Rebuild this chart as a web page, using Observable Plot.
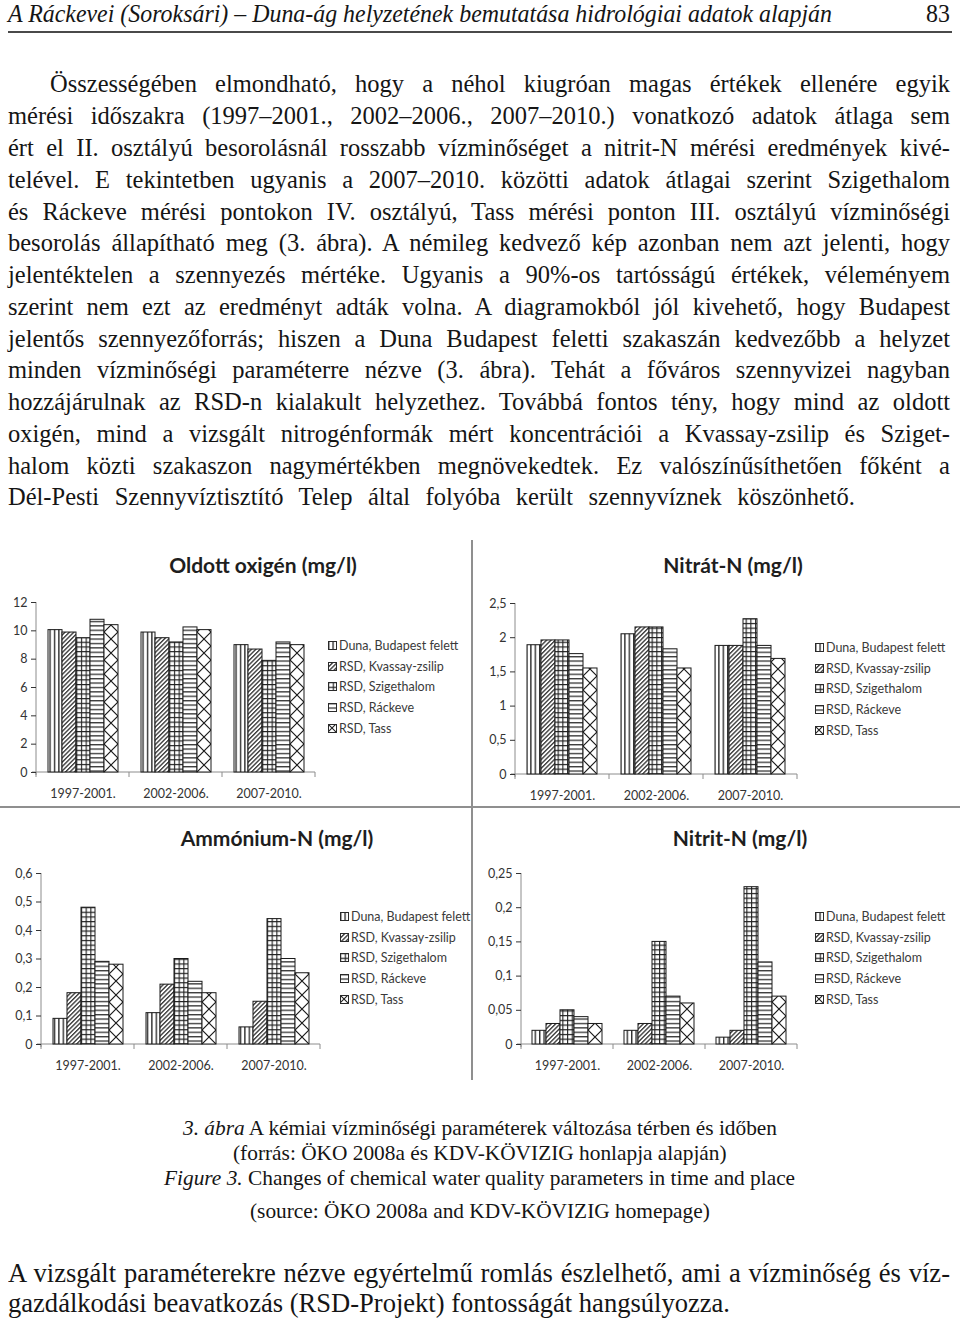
<!DOCTYPE html>
<html lang="hu"><head><meta charset="utf-8">
<script src="https://cdn.jsdelivr.net/npm/d3@7"></script>
<script src="https://cdn.jsdelivr.net/npm/@observablehq/plot@0.6"></script>
<style>
html,body{margin:0;padding:0;background:#fff;}
#page{position:relative;width:960px;height:1323px;overflow:hidden;font-family:"Liberation Serif","Times New Roman",serif;color:#151515;}
.fit{display:inline-block;white-space:nowrap;transform-origin:0 50%;}
.row{position:absolute;white-space:nowrap;font-family:"Liberation Serif","Times New Roman",serif;}
.chart{position:absolute;width:472px;height:268px;}
.chart-title{position:absolute;width:400px;text-align:center;font:700 21px Lato,sans-serif;color:#1e1e1e;line-height:30px;white-space:nowrap;}
.plotwrap{position:absolute;left:0;top:50px;}
.legend{position:absolute;font:12.5px Lato,sans-serif;color:#3a3a3a;}
.legend div{height:20.8px;white-space:nowrap;display:flex;align-items:center;}
.legend svg{margin-right:2px;flex:none;}
.sep{position:absolute;background:#8f8f8f;}
</style></head>
<body>
<svg width="0" height="0" style="position:absolute">
 <defs>
  <pattern id="pat-duna" patternUnits="userSpaceOnUse" width="4.4" height="4.4">
   <rect width="4.4" height="4.4" fill="#fff"/><line x1="0.7" y1="0" x2="0.7" y2="4.4" stroke="#1f1f1f" stroke-width="1.3"/>
  </pattern>
  <pattern id="pat-kvassay" patternUnits="userSpaceOnUse" width="3.1" height="10" patternTransform="rotate(45)">
   <rect width="3.1" height="10" fill="#fff"/><line x1="0.7" y1="0" x2="0.7" y2="10" stroke="#1f1f1f" stroke-width="1.2"/>
  </pattern>
  <pattern id="pat-szig" patternUnits="userSpaceOnUse" width="4.7" height="4.7">
   <rect width="4.7" height="4.7" fill="#fff"/><path d="M0.6,0V4.7M0,0.6H4.7" stroke="#1f1f1f" stroke-width="1.1"/>
  </pattern>
  <pattern id="pat-rackeve" patternUnits="userSpaceOnUse" width="4.4" height="4.4">
   <rect width="4.4" height="4.4" fill="#fff"/><line x1="0" y1="0.7" x2="4.4" y2="0.7" stroke="#1f1f1f" stroke-width="1.2"/>
  </pattern>
  <pattern id="pat-tass" patternUnits="userSpaceOnUse" width="8" height="8">
   <rect width="8" height="8" fill="#fff"/><path d="M0,0L8,8M8,0L0,8" stroke="#1f1f1f" stroke-width="1.1"/>
  </pattern>
 </defs>
</svg>
<div id="page"></div>
<script>
// ---------------- data ----------------
const periods = ["1997-2001.", "2002-2006.", "2007-2010."];
const stations = ["Duna, Budapest felett", "RSD, Kvassay-zsilip", "RSD, Szigethalom", "RSD, Ráckeve", "RSD, Tass"];
// one row per period, values in station order
const oxygenValues   = [[10.05, 9.88, 9.48, 10.78, 10.4], [9.88, 9.48, 9.18, 10.24, 10.05], [8.99, 8.68, 7.88, 9.18, 8.99]];
const nitrateValues  = [[1.89, 1.96, 1.96, 1.76, 1.55], [2.05, 2.15, 2.15, 1.83, 1.55], [1.88, 1.88, 2.27, 1.88, 1.69]];
const ammoniumValues = [[0.09, 0.18, 0.48, 0.29, 0.28], [0.11, 0.21, 0.30, 0.22, 0.18], [0.06, 0.15, 0.44, 0.30, 0.25]];
const nitriteValues  = [[0.02, 0.03, 0.05, 0.04, 0.03], [0.02, 0.03, 0.15, 0.07, 0.06], [0.01, 0.02, 0.23, 0.12, 0.07]];
const oxygenTicks   = [0, 2, 4, 6, 8, 10, 12];
const nitrateTicks  = [0, 0.5, 1, 1.5, 2, 2.5];
const ammoniumTicks = [0, 0.1, 0.2, 0.3, 0.4, 0.5, 0.6];
const nitriteTicks  = [0, 0.05, 0.1, 0.15, 0.2, 0.25];
const chartTitles = ["Oldott oxigén (mg/l)", "Nitrát-N (mg/l)", "Ammónium-N (mg/l)", "Nitrit-N (mg/l)"];

// ---------------- text ----------------
const headerText = "A Ráckevei (Soroksári) – Duna-ág helyzetének bemutatása hidrológiai adatok alapján";
const pageNumber = "83";
const bodyLines = [
 "Összességében elmondható, hogy a néhol kiugróan magas értékek ellenére egyik",
 "mérési időszakra (1997–2001., 2002–2006., 2007–2010.) vonatkozó adatok átlaga sem",
 "ért el II. osztályú besorolásnál rosszabb vízminőséget a nitrit-N mérési eredmények kivé-",
 "telével. E tekintetben ugyanis a 2007–2010. közötti adatok átlagai szerint Szigethalom",
 "és Ráckeve mérési pontokon IV. osztályú, Tass mérési ponton III. osztályú vízminőségi",
 "besorolás állapítható meg (3. ábra). A némileg kedvező kép azonban nem azt jelenti, hogy",
 "jelentéktelen a szennyezés mértéke. Ugyanis a 90%-os tartósságú értékek, véleményem",
 "szerint nem ezt az eredményt adták volna. A diagramokból jól kivehető, hogy Budapest",
 "jelentős szennyezőforrás; hiszen a Duna Budapest feletti szakaszán kedvezőbb a helyzet",
 "minden vízminőségi paraméterre nézve (3. ábra). Tehát a főváros szennyvizei nagyban",
 "hozzájárulnak az RSD-n kialakult helyzethez. Továbbá fontos tény, hogy mind az oldott",
 "oxigén, mind a vizsgált nitrogénformák mért koncentrációi a Kvassay-zsilip és Sziget-",
 "halom közti szakaszon nagymértékben megnövekedtek. Ez valószínűsíthetően főként a",
 "Dél-Pesti Szennyvíztisztító Telep által folyóba került szennyvíznek köszönhető."
];
const captionLines = [
 "<i>3. ábra</i> A kémiai vízminőségi paraméterek változása térben és időben",
 "(forrás: ÖKO 2008a és KDV-KÖVIZIG honlapja alapján)",
 "<i>Figure 3.</i> Changes of chemical water quality parameters in time and place",
 "(source: ÖKO 2008a and KDV-KÖVIZIG homepage)"
];
const finalLines = [
 "A vizsgált paraméterekre nézve egyértelmű romlás észlelhető, ami a vízminőség és víz-",
 "gazdálkodási beavatkozás (RSD-Projekt) fontosságát hangsúlyozza."
];

const page = document.getElementById("page");

function makeRow(html, left, cy, fs, lh, extra) {
  const row = document.createElement("div");
  row.className = "row";
  row.style.left = left + "px";
  row.style.fontSize = fs + "px";
  row.style.lineHeight = lh + "px";
  row.style.height = lh + "px";
  const base = (lh - 1.107 * fs) / 2 + 0.891 * fs; // baseline offset
  row.style.top = Math.max(0, cy - (base - 0.23 * fs)) + "px";
  if (extra) row.style.cssText += extra;
  row.innerHTML = '<span class="fit">' + html + '</span>';
  page.appendChild(row);
  return row.firstChild;
}
function spaces(el) { return (el.textContent.match(/ /g) || []).length; }
function justify(el, target, scale) {
  const w = el.getBoundingClientRect().width;
  const n = spaces(el);
  if (n) el.style.wordSpacing = ((target / scale - w) / n) + "px";
  if (scale !== 1) el.style.transform = "scaleX(" + scale + ")";
}

// header
const hdr = makeRow(headerText, 8, 17, 26, 28, "font-style:italic;");
const hdrScale = 824 / hdr.getBoundingClientRect().width;
hdr.style.transform = "scaleX(" + hdrScale + ")";
const pn = makeRow(pageNumber, 0, 17, 26, 28);
pn.style.transform = "scaleX(" + hdrScale + ")";
pn.parentNode.style.left = (950 - pn.getBoundingClientRect().width) + "px";
const rule = document.createElement("div");
rule.className = "sep";
rule.style.cssText += "left:8px;top:31px;width:944px;height:1.6px;background:#4a4a4a;";
page.appendChild(rule);

// body
bodyLines.forEach((t, k) => {
  const left = k === 0 ? 50 : 8;
  const target = k === bodyLines.length - 1 ? 847 : 950 - left;
  const span = makeRow(t, left, 87 + k * 31.77, 24.5, 31.77);
  justify(span, target, 1);
});

// caption
const capCenters = [1131, 1156, 1181, 1214];
let capScale = null;
captionLines.forEach((t, k) => {
  const span = makeRow(t, 0, capCenters[k], 21.5, 25);
  const w = span.getBoundingClientRect().width;
  if (capScale === null) capScale = 594 / w;
  span.style.transform = "scaleX(" + capScale + ")";
  span.parentNode.style.left = (480 - w * capScale / 2) + "px";
});

// final paragraph
const f2 = makeRow(finalLines[1], 8, 1306, 27, 30);
const finScale = 722 / f2.getBoundingClientRect().width;
f2.style.transform = "scaleX(" + finScale + ")";
const f1 = makeRow(finalLines[0], 8, 1276, 27, 30);
justify(f1, 942, finScale);

// separators of chart areas
const vsep = document.createElement("div");
vsep.className = "sep"; vsep.style.cssText += "left:471px;top:540px;width:1.5px;height:540px;";
page.appendChild(vsep);
const hsep = document.createElement("div");
hsep.className = "sep"; hsep.style.cssText += "left:0;top:806px;width:960px;height:1.5px;";
page.appendChild(hsep);

// ---------------- charts ----------------
const layouts = [
  {left: 0,   top: 540, titleX: 263, titleY: 25, ml: 35, width: 330, mt: 12, height: 218, legendX: 328, legendY: 95},
  {left: 472, top: 540, titleX: 261, titleY: 25, ml: 42, width: 341, mt: 13, height: 220, legendX: 343, legendY: 97},
  {left: 0,   top: 810, titleX: 277, titleY: 28, ml: 40, width: 335, mt: 13, height: 220, legendX: 340, legendY: 96},
  {left: 472, top: 810, titleX: 268, titleY: 28, ml: 48, width: 341, mt: 13, height: 220, legendX: 343, legendY: 96}
];
const legendPatterns = ["pat-duna", "pat-kvassay", "pat-szig", "pat-rackeve", "pat-tass"];
function tickFmt(d) { return String(+d.toFixed(4)).replace(".", ","); }

function drawChart(i, values, ticks) {
  const L = layouts[i];
  const box = document.createElement("div");
  box.className = "chart";
  box.style.left = L.left + "px"; box.style.top = L.top + "px";
  page.appendChild(box);

  const title = document.createElement("div");
  title.className = "chart-title";
  title.style.left = (L.titleX - 200) + "px";
  title.style.top = (L.titleY - 15) + "px";
  title.textContent = chartTitles[i];
  box.appendChild(title);

  const data = values.flatMap((row, pi) => row.map((v, si) => ({period: periods[pi], station: stations[si], value: v})));
  const tassId = "pat-tass-" + i;
  const fills = ["url(#pat-duna)", "url(#pat-kvassay)", "url(#pat-szig)", "url(#pat-rackeve)", "url(#" + tassId + ")"];
  const chart = Plot.plot({
    width: L.width, height: L.height,
    marginLeft: L.ml, marginRight: 15, marginTop: L.mt, marginBottom: 36,
    style: {fontFamily: "Lato, sans-serif", fontSize: "12.5px", color: "#333", background: "transparent", overflow: "visible"},
    fx: {domain: periods, padding: 0, label: null, axis: "bottom", tickSize: 0, tickPadding: 17},
    x: {domain: stations, paddingInner: 0, paddingOuter: 0.72, axis: null},
    y: {domain: [0, ticks[ticks.length - 1]], ticks: ticks, tickFormat: tickFmt, tickSize: 5, tickPadding: 4, label: null},
    color: {type: "ordinal", domain: stations, range: fills},
    marks: [
      Plot.barY(data, {fx: "period", x: "station", y: "value", fill: "station", stroke: "#1a1a1a", strokeWidth: 1})
    ]
  });
  const wrap = document.createElement("div");
  wrap.className = "plotwrap";
  wrap.appendChild(chart);
  box.appendChild(wrap);

  const svg = d3.select(chart);
  const fx = chart.scale("fx"), xs = chart.scale("x"), ys = chart.scale("y");
  const y0 = ys.apply(0), yTop = ys.apply(ticks[ticks.length - 1]);
  const xL = fx.apply(periods[0]), xR = fx.apply(periods[periods.length - 1]) + fx.bandwidth;
  svg.selectAll('[aria-label="y-axis tick"]').attr("stroke", "#8c8c8c");
  svg.selectAll('.tick line').attr("stroke", "#8c8c8c");
  const g = svg.insert("g", "g").attr("stroke", "#8c8c8c").attr("stroke-width", 1).attr("fill", "none");
  g.append("line").attr("x1", xL).attr("x2", xL).attr("y1", yTop).attr("y2", y0 + 3);
  g.append("line").attr("x1", xL - 4).attr("x2", xR).attr("y1", y0).attr("y2", y0);
  periods.map(p => fx.apply(p)).concat([xR]).forEach(x =>
    g.append("line").attr("x1", x).attr("x2", x).attr("y1", y0).attr("y2", y0 + 5));

  // Tass cross pattern aligned to this chart's bars
  const bw = xs.bandwidth, tx = xs.apply(stations[4]);
  const defs = svg.insert("defs", ":first-child");
  const pat = defs.append("pattern").attr("id", tassId).attr("patternUnits", "userSpaceOnUse")
    .attr("x", tx).attr("y", y0).attr("width", bw).attr("height", bw);
  pat.append("rect").attr("width", bw).attr("height", bw).attr("fill", "#fff");
  pat.append("path").attr("d", `M0,0L${bw},${bw}M${bw},0L0,${bw}`).attr("stroke", "#1a1a1a").attr("stroke-width", 1.2);

  const legend = document.createElement("div");
  legend.className = "legend";
  legend.style.left = L.legendX + "px"; legend.style.top = L.legendY + "px";
  legend.innerHTML = stations.map((s, k) =>
    `<div><svg width="9" height="9"><rect x="0.5" y="0.5" width="8" height="8" fill="url(#${legendPatterns[k]})" stroke="#2a2a2a"/></svg><span>${s}</span></div>`).join("");
  box.appendChild(legend);
}

drawChart(0, oxygenValues, oxygenTicks);
drawChart(1, nitrateValues, nitrateTicks);
drawChart(2, ammoniumValues, ammoniumTicks);
drawChart(3, nitriteValues, nitriteTicks);
</script>
</body></html>
